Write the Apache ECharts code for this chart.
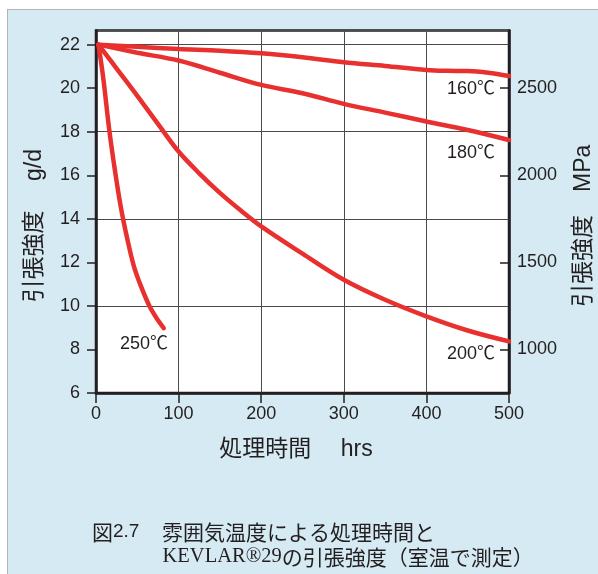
<!DOCTYPE html>
<html><head><meta charset="utf-8">
<script src="https://cdn.jsdelivr.net/npm/echarts@6/dist/echarts.min.js"></script>
<style>
html,body{margin:0;padding:0;background:#fff;}
#wrap{position:relative;width:598px;height:574px;overflow:hidden;}
#box{position:absolute;left:7px;top:9px;width:620px;height:600px;background:#d5eaf3;border:1.5px solid #b3b3b3;box-sizing:border-box;}
#chart{position:absolute;left:0;top:0;width:598px;height:574px;}
</style></head>
<body><div id="wrap"><div id="box"></div><div id="chart"></div></div>
<script>
// ---- data ----
const xTicks = [0, 100, 200, 300, 400, 500];
const leftTicks = [6, 8, 10, 12, 14, 16, 18, 20, 22];
const rightTicks = [1000, 1500, 2000, 2500];

const hrs160 = [3, 50, 100, 150, 200, 250, 300, 350, 400, 425, 450, 475, 500];
const val160 = [22, 21.9, 21.8, 21.72, 21.6, 21.42, 21.19, 21.02, 20.84, 20.8, 20.79, 20.71, 20.56];

const hrs180 = [3, 50, 100, 150, 200, 250, 300, 350, 400, 450, 500];
const val180 = [22, 21.63, 21.27, 20.71, 20.15, 19.77, 19.28, 18.88, 18.47, 18.08, 17.62];

const hrs200 = [3, 25, 50, 75, 100, 125, 150, 175, 200, 250, 300, 350, 400, 450, 500];
const val200 = [22, 20.9, 19.65, 18.36, 17.09, 16.09, 15.19, 14.39, 13.65, 12.4, 11.2, 10.28, 9.52, 8.87, 8.37];

const hrs250 = [3, 9, 16, 23, 30, 38, 46, 55, 65, 74, 82];
const val250 = [22, 20.4, 18.1, 16.2, 14.55, 13.06, 11.81, 10.85, 9.97, 9.4, 8.98];

const seriesNames = ['160℃', '180℃', '200℃', '250℃'];
const labelAt = [[454, 19.95], [454, 17.0], [454, 7.8], [58, 8.25]];

const xName = '処理時間　 hrs';
const leftName = '引張強度　 g/d';
const rightName = '引張強度　MPa';
const captionL1 = '雰囲気温度による処理時間と';
const captionL2a = 'KEVLAR®29';
const captionL2b = 'の引張強度（室温で測定）';

// ---- chart ----
const INK = '#231f20';
const RED = '#e8302f';
const FONT = '"Liberation Sans", "Noto Sans CJK JP", sans-serif';
const yMin = 6, yMax = 22.65, mpaPerGd = 125;

function pairs(xs, ys) { return xs.map((x, i) => [x, ys[i]]); }
const allData = [pairs(hrs160, val160), pairs(hrs180, val180), pairs(hrs200, val200), pairs(hrs250, val250)];

const chart = echarts.init(document.getElementById('chart'), null, {renderer: 'canvas'});
chart.setOption({
  animation: false,
  backgroundColor: 'transparent',
  grid: {left: 96, right: 89, top: 30.5, bottom: 181, show: true, backgroundColor: '#fff',
         borderColor: INK, borderWidth: 2.5, containLabel: false, outerBoundsMode: 'none'},
  xAxis: {
    type: 'value', min: 0, max: 500, interval: 100,
    axisLine: {show: true, lineStyle: {color: INK, width: 2.5}},
    axisTick: {show: true, length: 10, lineStyle: {color: INK, width: 1.5}},
    axisLabel: {fontSize: 18, color: INK, fontFamily: FONT, margin: 12,
                customValues: xTicks, formatter: v => String(v)},
    splitLine: {show: true, lineStyle: {color: '#4a4a4a', width: 1}},
    name: xName, nameLocation: 'middle', nameGap: 45,
    nameTextStyle: {fontSize: 23, color: INK, fontFamily: FONT, padding: [0, 13, 0, 0]}
  },
  yAxis: [
    {
      type: 'value', position: 'left', min: yMin, max: yMax,
      axisLine: {show: true, lineStyle: {color: INK, width: 2.5}},
      axisTick: {show: true, length: 9, lineStyle: {color: INK, width: 1.5}, customValues: leftTicks},
      axisLabel: {fontSize: 18, color: INK, fontFamily: FONT, margin: 16, customValues: leftTicks, formatter: v => String(v)},
      splitLine: {show: false},
      name: leftName, nameLocation: 'middle', nameRotate: 90, nameGap: 50,
      nameTextStyle: {fontSize: 23, color: INK, fontFamily: FONT, padding: [0, 28, 0, 0]}
    },
    {
      type: 'value', position: 'right', min: yMin * mpaPerGd, max: yMax * mpaPerGd,
      axisLine: {show: true, lineStyle: {color: INK, width: 2.5}},
      axisTick: {show: true, inside: true, length: 9, lineStyle: {color: INK, width: 1.5}, customValues: rightTicks},
      axisLabel: {fontSize: 18, color: INK, fontFamily: FONT, margin: 8, customValues: rightTicks, formatter: v => String(v)},
      splitLine: {show: false},
      name: rightName, nameLocation: 'middle', nameRotate: 90, nameGap: 63,
      nameTextStyle: {fontSize: 23, color: INK, fontFamily: FONT, padding: [0, 28, 0, 0]}
    },
    {
      type: 'value', position: 'left', min: yMin, max: yMax, interval: 4,
      axisLine: {show: false}, axisTick: {show: false}, axisLabel: {show: false},
      splitLine: {show: true, lineStyle: {color: '#4a4a4a', width: 1}}
    }
  ],
  series: allData.map((d, i) => ({
    type: 'line', name: seriesNames[i], data: d, xAxisIndex: 0, yAxisIndex: 0,
    showSymbol: false, symbol: 'none', smooth: 0.35,
    lineStyle: {color: RED, width: 4.5, cap: 'round'},
    z: 5,
    markPoint: {
      symbol: 'circle', symbolSize: 1, itemStyle: {color: 'rgba(0,0,0,0)'},
      label: {show: true, position: 'inside', formatter: seriesNames[i], fontSize: 18, color: INK, fontFamily: FONT},
      data: [{coord: labelAt[i], value: seriesNames[i]}]
    }
  })),
  graphic: [
    {type: 'text', x: 92, y: 532, z: 10, style: {text: '{a|図}{b|2.7}', fill: INK, verticalAlign: 'middle',
      rich: {a: {fontSize: 21, fontFamily: '"Noto Sans CJK JP"', fill: INK}, b: {fontSize: 19, fontFamily: FONT, fill: INK}}}},
    {type: 'text', x: 162, y: 532, z: 10, style: {text: captionL1, fill: INK, verticalAlign: 'middle',
      font: '21px "Noto Sans CJK JP"'}},
    {type: 'text', x: 162.5, y: 557, z: 10, style: {text: '{a|' + captionL2a + '}{b|' + captionL2b + '}', fill: INK, verticalAlign: 'middle',
      rich: {a: {fontSize: 20.5, fontFamily: '"Liberation Serif"', fill: INK}, b: {fontSize: 21, fontFamily: '"Noto Sans CJK JP"', fill: INK}}}}
  ]
});
</script>
</body></html>
